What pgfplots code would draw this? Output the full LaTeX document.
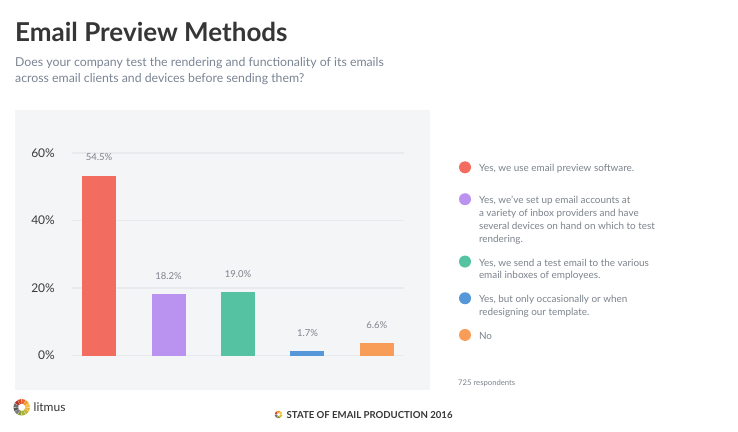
\documentclass[border=0pt]{standalone}
\usepackage{fontspec}
\setmainfont{Lato}
\usepackage{pgfplots}
\pgfplotsset{compat=1.18}

\definecolor{panel}{HTML}{F4F5F7}
\definecolor{gridc}{HTML}{E8EAED}
\definecolor{titlec}{HTML}{363636}
\definecolor{subc}{HTML}{7B8594}
\definecolor{legc}{HTML}{7D838C}
\definecolor{tickc}{HTML}{3A3A3A}
\definecolor{cred}{HTML}{F36C60}
\definecolor{cpurple}{HTML}{BA93F0}
\definecolor{cgreen}{HTML}{55C3A1}
\definecolor{cblue}{HTML}{5597D8}
\definecolor{corange}{HTML}{F89D58}

\pgfplotsset{
  mybar/.style={fill=#1, draw=none,
    legend image code/.code={\fill[#1] (6pt,-2.8pt) circle (6pt);}},
}

\begin{document}
\begin{tikzpicture}[x=1pt,y=1pt]
\fill[white] (0,0) rectangle (738,431);
\path[use as bounding box] (0,0) rectangle (738,431);
\fill[panel] (15,41) rectangle (430,321);
\coordinate (axpos) at (72,75.5);

% title and question
\node[anchor=base west, inner sep=0pt, text=titlec,
      font=\fontsize{26}{30}\selectfont\bfseries] at (15,389) {Email Preview Methods};
\node[anchor=base west, inner sep=0pt, text=subc, font=\fontsize{12.3}{16}\selectfont]
  at (15,364.3) {Does your company test the rendering and functionality of its emails};
\node[anchor=base west, inner sep=0pt, text=subc, font=\fontsize{12.3}{16}\selectfont]
  at (15,348.3) {across email clients and devices before sending them?};

\begin{axis}[
  at={(axpos)}, anchor=south west,
  scale only axis, width=332pt, height=202.5pt,
  xmin=-0.39, xmax=4.39, ymin=0, ymax=60,
  ybar, bar width=34pt, bar shift=0pt,
  axis line style={draw=none},
  xtick=\empty, ytick={0,20,40,60},
  major tick length=0pt,
  ymajorgrids, grid style={color=gridc, line width=1.6pt},
  yticklabel={\pgfmathprintnumber{\tick}\%},
  /pgf/number format/assume math mode=true,
  yticklabel style={anchor=east, inner sep=0pt, xshift=-17pt,
    font=\fontsize{12}{14}\selectfont, text=tickc},
  point meta=explicit symbolic,
  nodes near coords,
  every node near coord/.append style={font=\fontsize{9.5}{11}\selectfont,
    text=legc, yshift=11pt},
  clip=false,
  legend style={at={(1.1657,0.959)}, anchor=north west, draw=none, fill=none,
    inner sep=0pt, outer sep=0pt, row sep=12pt, column sep=8pt,
    font=\fontsize{9.9}{12.7}\selectfont, text=legc,
    nodes={inner sep=0pt, anchor=north west, align=left}},
  legend cell align=left,
]
\addplot[mybar=cred] coordinates {(0,53.3) [54.5\%]};
\addplot[mybar=cpurple] coordinates {(1,18.2) [18.2\%]};
\addplot[mybar=cgreen] coordinates {(2,18.8) [19.0\%]};
\addplot[mybar=cblue] coordinates {(3,1.2) [1.7\%]};
\addplot[mybar=corange] coordinates {(4,3.8) [6.6\%]};
\legend{{Yes, we use email preview software.\\[-4.8pt]{}},
  {Yes, we've set up email accounts at\\a variety of inbox providers and have\\several devices on hand on which to test\\rendering.},
  {Yes, we send a test email to the various\\email inboxes of employees.},
  {Yes, but only occasionally or when\\redesigning our template.},
  {No}}
\end{axis}

\node[anchor=base west, inner sep=0pt, text=legc, font=\fontsize{7.7}{9}\selectfont]
  at (458,45.5) {725 respondents};

% footer: litmus logo
\foreach \i/\c in {0/F5C33B,1/F39C2D,2/E8692E,3/D4452C,4/B5352C,5/6E6E6E,6/555555,7/7A7A7A,8/8C9A3C,9/A7B43E,10/C9B13A,11/E6B93A}{
  \definecolor{seg}{HTML}{\c}
  \fill[seg] (21.7,23.7) ++(\i*30+2:3.5) arc (\i*30+2:\i*30+28:3.5)
     -- ++(\i*30+28:4.8) arc (\i*30+28:\i*30+2:8.3) -- cycle;
}
\node[anchor=base west, inner sep=0pt, text=titlec, font=\fontsize{12}{14}\selectfont]
  at (33.5,20) {litmus};
% footer: report name
\foreach \i/\c in {0/F5C33B,1/F39C2D,2/D4452C,3/6E6E6E,4/8C9A3C,5/E6B93A}{
  \definecolor{seg}{HTML}{\c}
  \fill[seg] (278.5,16.5) ++(\i*60+5:1.6) arc (\i*60+5:\i*60+55:1.6)
     -- ++(\i*60+55:2.4) arc (\i*60+55:\i*60+5:4) -- cycle;
}
\node[anchor=base west, inner sep=0pt, text=titlec, font=\fontsize{9.6}{11}\selectfont\bfseries]
  at (286.5,13) {STATE OF EMAIL PRODUCTION 2016};
\end{tikzpicture}
\end{document}
